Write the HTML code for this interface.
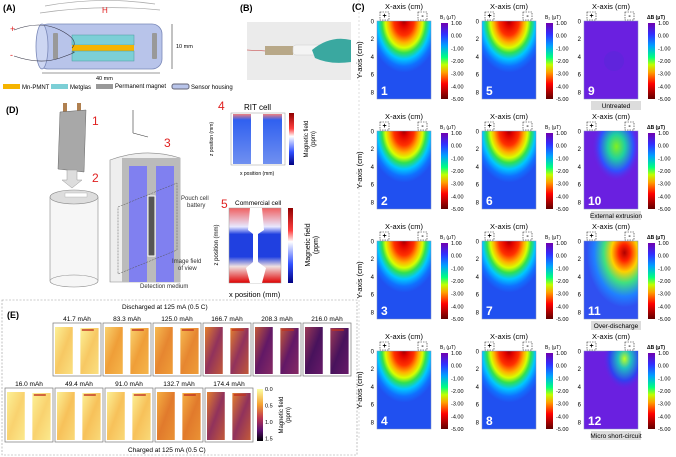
<!DOCTYPE html>
<html><head><meta charset="utf-8"><style>
html,body{margin:0;padding:0;background:#fff}
svg{display:block;font-family:"Liberation Sans",sans-serif}
</style></head><body>
<svg id="fig" width="676" height="457" viewBox="0 0 676 457" xmlns="http://www.w3.org/2000/svg">
<defs>
<radialGradient id="gB" cx="0.5" cy="0" r="0.66" fx="0.5" fy="0">
<stop offset="0" stop-color="#a00000"/><stop offset="0.1" stop-color="#e00000"/><stop offset="0.28" stop-color="#ff3000"/><stop offset="0.42" stop-color="#ffb000"/><stop offset="0.52" stop-color="#d8ff00"/><stop offset="0.62" stop-color="#30e050"/><stop offset="0.74" stop-color="#00c8ff"/><stop offset="0.88" stop-color="#1070ff"/><stop offset="1" stop-color="#2050f0"/></radialGradient>
<linearGradient id="cb" x1="0" y1="0" x2="0" y2="1">
<stop offset="0" stop-color="#7000b0"/><stop offset="0.15" stop-color="#3030ff"/><stop offset="0.3" stop-color="#00a0ff"/><stop offset="0.45" stop-color="#00ff80"/><stop offset="0.55" stop-color="#c0ff00"/><stop offset="0.65" stop-color="#ffa000"/><stop offset="0.8" stop-color="#ff0000"/><stop offset="1" stop-color="#600000"/></linearGradient>
<linearGradient id="cbInf" x1="0" y1="0" x2="0" y2="1">
<stop offset="0" stop-color="#fcffa4"/><stop offset="0.3" stop-color="#f4a030"/><stop offset="0.55" stop-color="#c03a50"/><stop offset="0.8" stop-color="#5a1070"/><stop offset="1" stop-color="#000004"/></linearGradient>
<linearGradient id="cbRB" x1="0" y1="0" x2="0" y2="1">
<stop offset="0" stop-color="#900000"/><stop offset="0.3" stop-color="#ff4040"/><stop offset="0.45" stop-color="#ffffff"/><stop offset="0.75" stop-color="#3050ff"/><stop offset="1" stop-color="#000080"/></linearGradient>
<radialGradient id="g10" cx="0.6" cy="0.2" r="0.45"><stop offset="0" stop-color="#80f020"/><stop offset="0.35" stop-color="#20d0a0"/><stop offset="0.7" stop-color="#3050ff"/><stop offset="1" stop-color="#6a20e0" stop-opacity="0"/></radialGradient>
<radialGradient id="g11" cx="0.75" cy="0.15" r="0.7"><stop offset="0" stop-color="#b00000"/><stop offset="0.15" stop-color="#ff2000"/><stop offset="0.35" stop-color="#ffd000"/><stop offset="0.55" stop-color="#40e080"/><stop offset="0.8" stop-color="#2080ff"/><stop offset="1" stop-color="#3050f0"/></radialGradient>
<radialGradient id="g12" cx="0.75" cy="0.1" r="0.4"><stop offset="0" stop-color="#c0ff20"/><stop offset="0.3" stop-color="#20c0c0"/><stop offset="0.7" stop-color="#3040f0"/><stop offset="1" stop-color="#6a20e0" stop-opacity="0"/></radialGradient>
<linearGradient id="rit" x1="0" y1="0" x2="0" y2="1"><stop offset="0" stop-color="#f08080"/><stop offset="0.12" stop-color="#3060f0"/><stop offset="1" stop-color="#7090f0"/></linearGradient>
<linearGradient id="com" x1="0" y1="0" x2="0" y2="1"><stop offset="0" stop-color="#f06060"/><stop offset="0.25" stop-color="#e8e8ff"/><stop offset="0.35" stop-color="#2040e0"/><stop offset="0.65" stop-color="#2040e0"/><stop offset="0.78" stop-color="#f0e0e0"/><stop offset="1" stop-color="#e00000"/></linearGradient>
</defs>

<!-- Panel A -->
<g>
<text x="3" y="11" font-size="9" font-weight="bold">(A)</text>
<path d="M45 6 Q100 -4 155 4" fill="none" stroke="#aaa" stroke-width="0.7"/>
<path d="M40 13 Q100 4 160 10" fill="none" stroke="#aaa" stroke-width="0.7"/>
<text x="102" y="13" font-size="8" fill="#e02020">H</text>
<text x="10" y="32" font-size="9" fill="#e02020">+</text>
<text x="10" y="58" font-size="9" fill="#e02020">-</text>
<rect x="38" y="24" width="124" height="45" rx="10" fill="#b8c4ea" stroke="#7a88b8" stroke-width="0.8"/>
<ellipse cx="42" cy="46.5" rx="6" ry="22.5" fill="#cdd6f2" stroke="#7a88b8" stroke-width="0.8"/>
<rect x="53" y="33" width="5" height="26" fill="#999" rx="1"/>
<rect x="152" y="33" width="5" height="26" fill="#999" rx="1"/>
<rect x="72" y="35" width="62" height="10" fill="#7ccfd6" stroke="#4a9aa0" stroke-width="0.5"/>
<rect x="72" y="45" width="62" height="6" fill="#f5b400"/>
<rect x="72" y="51" width="62" height="10" fill="#7ccfd6" stroke="#4a9aa0" stroke-width="0.5"/>
<path d="M14 30 Q40 20 60 30 T72 48 M14 56 Q40 65 60 58 T72 52" fill="none" stroke="#334" stroke-width="0.6"/>
<line x1="172" y1="24" x2="172" y2="69" stroke="#333" stroke-width="0.6"/>
<text x="176" y="48" font-size="5.5">10 mm</text>
<line x1="42" y1="73" x2="160" y2="73" stroke="#333" stroke-width="0.6"/>
<text x="96" y="80" font-size="5.5">40 mm</text>
<g font-size="6">
<rect x="3" y="84" width="17" height="5" fill="#f5b400"/><text x="22" y="89">Mn-PMNT</text>
<rect x="51" y="84" width="17" height="5" fill="#7ccfd6"/><text x="70" y="89">Metglas</text>
<rect x="96" y="84" width="17" height="5" fill="#999"/><text x="115" y="88">Permanent magnet</text>
<rect x="172" y="84" width="17" height="5" rx="2" fill="#b8c4ea" stroke="#667"/><text x="191" y="89">Sensor housing</text>
</g>
</g>

<!-- Panel B -->
<g>
<text x="240" y="11" font-size="9" font-weight="bold">(B)</text>
<rect x="247" y="22" width="104" height="58" fill="#ebebeb"/>
<line x1="247" y1="50" x2="266" y2="51" stroke="#c03030" stroke-width="0.5"/>
<rect x="265" y="46" width="28" height="9" fill="#b8a888"/>
<rect x="293" y="45" width="30" height="10" rx="3" fill="#f4f4f4" stroke="#ccc" stroke-width="0.5"/>
<path d="M312 50 Q330 35 351 40 L351 62 Q330 65 315 58 Z" fill="#3aa8a0"/>
</g>

<!-- Panel D -->
<g>
<text x="6" y="113" font-size="9" font-weight="bold">(D)</text>
<rect x="63" y="103" width="4" height="10" fill="#b08050"/><rect x="77" y="103" width="4" height="10" fill="#b08050"/>
<path d="M60 112 L86 110 L84 172 L58 169 Z" fill="#a8a8a8" stroke="#666" stroke-width="0.5"/>
<text x="92" y="125" font-size="12" fill="#e02020">1</text>
<path d="M67 170 L77 170 L77 180 L82 180 L72 188 L62 180 L67 180 Z" fill="#ddd" stroke="#999" stroke-width="0.5"/>
<text x="92" y="182" font-size="12" fill="#e02020">2</text>
<rect x="50" y="197" width="48" height="84" fill="#f6f6f6" stroke="#888" stroke-width="0.6"/>
<ellipse cx="74" cy="281" rx="24" ry="6" fill="#f6f6f6" stroke="#888" stroke-width="0.6"/>
<ellipse cx="74" cy="197" rx="24" ry="7" fill="#ddd" stroke="#888" stroke-width="0.6"/>
<rect x="65" y="193" width="22" height="4" fill="#fff" stroke="#aaa" stroke-width="0.4"/>
<line x1="133" y1="110" x2="133" y2="133" stroke="#333" stroke-width="0.6"/><line x1="133" y1="133" x2="148" y2="137" stroke="#333" stroke-width="0.6"/>
<text x="164" y="147" font-size="12" fill="#e02020">3</text>
<path d="M110 160 Q145 147 180 158 L180 282 L110 282 Z" fill="#eee" stroke="#888" stroke-width="0.6"/>
<rect x="122" y="158" width="58" height="124" fill="#bbb"/>
<rect x="129" y="166" width="18" height="116" fill="#8080f0"/>
<rect x="156" y="166" width="18" height="116" fill="#8080f0"/>
<rect x="148" y="196" width="7" height="60" fill="#555" stroke="#fff"/>
<path d="M118 207 L177 183 L177 250 L118 274 Z" fill="none" stroke="#555" stroke-width="0.5" stroke-dasharray="2,1"/>
<g font-size="6" fill="#333">
<text x="181" y="200">Pouch cell</text><text x="187" y="207">battery</text>
<text x="172" y="263">Image field</text><text x="178" y="270">of view</text>
<text x="140" y="288">Detection medium</text>
</g>
<text x="218" y="110" font-size="12" fill="#e02020">4</text>
<text x="244" y="110" font-size="8">RIT cell</text>
<rect x="231" y="113" width="54" height="52" fill="#fff" stroke="#999" stroke-width="0.5"/>
<rect x="233" y="114" width="18" height="50" fill="url(#rit)"/><rect x="263" y="114" width="19" height="50" fill="url(#rit)"/>
<rect x="289" y="113" width="5" height="52" fill="url(#cbRB)"/>
<text transform="translate(308 139) rotate(-90)" font-size="6" text-anchor="middle">Magnetic field</text>
<text transform="translate(315 139) rotate(-90)" font-size="6" text-anchor="middle">(ppm)</text>
<text transform="translate(213 139) rotate(-90)" font-size="5" text-anchor="middle">z position (mm)</text>
<text x="240" y="175" font-size="5">x position (mm)</text>
<text x="221" y="208" font-size="12" fill="#e02020">5</text>
<text x="235" y="205" font-size="6.5">Commercial cell</text>
<rect x="229" y="208" width="52" height="75" fill="url(#com)" stroke="#999" stroke-width="0.5"/>
<path d="M250 208 L262 208 L264 230 L258 234 L258 262 L266 268 L262 283 L250 283 L246 268 L253 262 L253 234 L248 230 Z" fill="#fff"/>
<rect x="288" y="208" width="5" height="75" fill="url(#cbRB)"/>
<text transform="translate(310 245) rotate(-90)" font-size="7" text-anchor="middle">Magnetic field</text>
<text transform="translate(318 245) rotate(-90)" font-size="7" text-anchor="middle">(ppm)</text>
<text transform="translate(218 245) rotate(-90)" font-size="6" text-anchor="middle">z position (mm)</text>
<text x="229" y="297" font-size="7.5">x position (mm)</text>
</g>

<!-- Panel E frame -->
<g>
<rect x="2" y="300" width="355" height="155" fill="none" stroke="#999" stroke-width="0.6" stroke-dasharray="2,1.5"/>
<text x="7" y="318" font-size="9" font-weight="bold">(E)</text>
<text x="122" y="309" font-size="6.5">Discharged at 125 mA (0.5 C)</text>
<text x="128" y="452" font-size="6.5">Charged at 125 mA (0.5 C)</text>
<rect x="257" y="389" width="6" height="52" fill="url(#cbInf)"/>
<text transform="translate(283 415) rotate(-90)" font-size="6" text-anchor="middle">Magnetic field</text>
<text transform="translate(290 415) rotate(-90)" font-size="6" text-anchor="middle">(ppm)</text>
<g id="eCbTicks" font-size="5.5"></g>
<g id="eMaps"></g>
</g>

<!-- Panel C -->
<g>
<text x="352" y="10" font-size="9" font-weight="bold">(C)</text>
<line x1="359" y1="0" x2="359" y2="440" stroke="#bbb" stroke-width="0.5" stroke-dasharray="2,2"/>
<g id="cMaps"></g>
</g>
</svg>
<script>
const NS='http://www.w3.org/2000/svg';
const svg=document.getElementById('fig');
// ---- data ----
const yTicks=[0,2,4,6,8];
const cbTicks=['1.00','0.00','-1.00','-2.00','-3.00','-4.00','-5.00'];
const panelIds=[1,5,9,2,6,10,3,7,11,4,8,12];
const captions=['Untreated','External extrusion','Over-discharge','Micro short-circuit'];
const cbTitles=['B\u2081 (\u03bcT)','B\u2082 (\u03bcT)','\u0394B (\u03bcT)'];
const dischargeLabels=['41.7 mAh','83.3 mAh','125.0 mAh','166.7 mAh','208.3 mAh','216.0 mAh'];
const dischargeLevels=[0.07,0.25,0.35,0.6,0.72,0.8];
const chargeLabels=['16.0 mAh','49.4 mAh','91.0 mAh','132.7 mAh','174.4 mAh'];
const chargeLevels=[0.03,0.1,0.1,0.4,0.6];
const eCbTicks=['0.0','0.5','1.0','1.5'];

function mk(tag,attrs,parent,txt){const e=document.createElementNS(NS,tag);for(const k in attrs)e.setAttribute(k,attrs[k]);if(txt!==undefined)e.textContent=txt;parent.appendChild(e);return e;}

// ---- panel C maps ----
const cG=document.getElementById('cMaps');
const colX=[377,482,584], rowY=[21,131,241,351], W=54, H=78;
const maxY=8.8;
function yScale(v,top){return top+ (v/maxY)*H;}
panelIds.forEach((id,i)=>{
  const r=Math.floor(i/3), c=i%3, x=colX[c], y=rowY[r];
  const g=mk('g',{},cG);
  
  
  mk('text',{x:x+W/2,y:y-12,'font-size':7.5,'text-anchor':'middle'},g,'X-axis (cm)');
  let fill;
  if(c<2) fill='url(#gB)';
  else if(id===11) fill='url(#g11)';
  else fill='#6a20e0';
  const m=mk('rect',{x:x,y:y,width:W,height:H,fill:fill,stroke:'#8090c0','stroke-width':0.5},g);
  
  
  if(id===10) mk('rect',{x:x,y:y,width:W,height:H,fill:'url(#g10)'},g);
  if(id===12) mk('rect',{x:x,y:y,width:W,height:H,fill:'url(#g12)'},g);
  if(id===9){mk('circle',{cx:x+30,cy:y+40,r:10,fill:'#5a28d8',opacity:0.6},g);}
  mk('rect',{x:x+3,y:y-9,width:9,height:8,fill:'none',stroke:'#222','stroke-width':0.6,'stroke-dasharray':'1.5,1'},g);
  mk('text',{x:x+7.5,y:y-3,'font-size':7,'text-anchor':'middle','font-weight':'bold'},g,'+');
  mk('rect',{x:x+W-13,y:y-9,width:9,height:8,fill:'none',stroke:'#222','stroke-width':0.6,'stroke-dasharray':'1.5,1'},g);
  mk('text',{x:x+W-8.5,y:y-3,'font-size':7,'text-anchor':'middle','font-weight':'bold'},g,'-');
  yTicks.forEach(t=>{
    const yy=yScale(t,y);
    mk('text',{x:x-3,y:yy+2.5,'font-size':6,'text-anchor':'end'},g,String(t));
  });
  if(c===0){
    mk('text',{transform:`translate(${x-15} ${y+H/2}) rotate(-90)`,'font-size':7.5,'text-anchor':'middle'},g,'Y-axis (cm)');
  }
  mk('text',{x:x+4,y:y+H-4,'font-size':12,'font-weight':'bold',fill:'#fff'},g,String(id));
  const cbx=x+W+10;
  const cb=mk('rect',{x:cbx,y:y+2,width:7,height:H-2,fill:'url(#cb)'},g);
  
  
  mk('text',{x:cbx-1,y:y-2,'font-size':5,'font-weight':c===2?'bold':'normal'},g,cbTitles[c]);
  cbTicks.forEach((t,k)=>{
    const yy=y+2+k*(H-2)/(cbTicks.length-1);
    mk('text',{x:cbx+10,y:yy+2,'font-size':5.5},g,t);
  });
  if(c===2){
    const cap=mk('g',{},g);
    
    
    mk('rect',{x:x+7,y:y+H+2,width:50,height:9,fill:'#dcdcdc'},cap);
    mk('text',{x:x+32,y:y+H+9,'font-size':6.5,'text-anchor':'middle'},cap,captions[r]);
  }
});

// ---- panel E maps ----
const eG=document.getElementById('eMaps');
function infColor(v){
  const stops=[[0,[252,240,150]],[0.3,[244,170,60]],[0.55,[220,110,40]],[0.75,[120,30,110]],[1,[40,10,80]]];
  for(let i=1;i<stops.length;i++){if(v<=stops[i][0]){const a=stops[i-1],b=stops[i];const t=(v-a[0])/(b[0]-a[0]);return 'rgb('+a[1].map((q,j)=>Math.round(q+(b[1][j]-q)*t)).join(',')+')';}}
  return 'rgb(40,10,80)';
}
function eMap(x,y,w,h,lvl,label,name){
  const g=mk('g',{},eG);
  
  
  mk('text',{x:x+w/2,y:y-2,'font-size':6.5,'text-anchor':'middle'},g,label);
  mk('rect',{x:x,y:y,width:w,height:h,fill:'#fff',stroke:'#777','stroke-width':0.7},g);
  const c1=infColor(Math.max(0,lvl-0.12)), c2=infColor(lvl), c3=infColor(Math.min(1,lvl+0.1));
  const gid='eg'+name;
  const lg=mk('linearGradient',{id:gid,x1:0,y1:0,x2:1,y2:1},svg.querySelector('defs'));
  mk('stop',{offset:0,'stop-color':c1},lg);mk('stop',{offset:0.5,'stop-color':c3},lg);mk('stop',{offset:1,'stop-color':c2},lg);
  mk('rect',{x:x+2,y:y+4,width:w*0.37,height:h-6,fill:`url(#${gid})`},g);
  mk('rect',{x:x+w*0.57,y:y+5,width:w*0.38,height:h-7,fill:`url(#${gid})`},g);
  mk('rect',{x:x+w*0.6,y:y+6,width:w*0.25,height:2,fill:'#c03020',opacity:0.7},g);
}
dischargeLabels.forEach((l,i)=>eMap(53+i*50,323,48,53,dischargeLevels[i],l,'discharge-map-'+i));
chargeLabels.forEach((l,i)=>eMap(5+i*50,388,48,54,chargeLevels[i],l,'charge-map-'+i));
const eT=document.getElementById('eCbTicks');
eCbTicks.forEach((t,k)=>{mk('text',{x:265,y:391+k*16.5},eT,t);});
</script>
</body></html>
